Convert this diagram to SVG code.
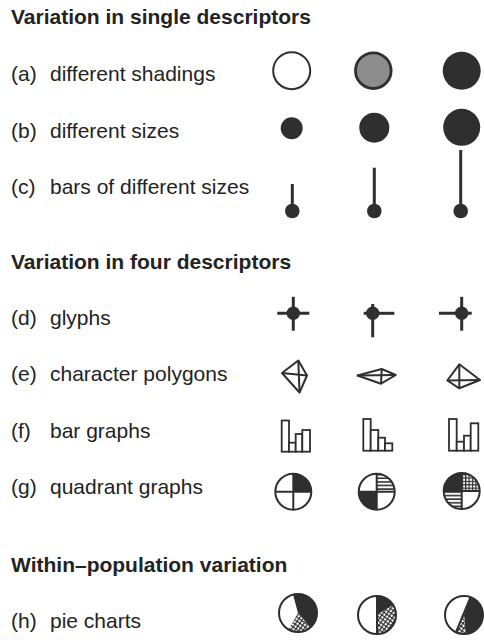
<svg xmlns="http://www.w3.org/2000/svg" width="484" height="640" viewBox="0 0 484 640">
  <defs>
    <style>
      text { font-family: "Liberation Sans", Arial, Helvetica, sans-serif; font-size: 21px; fill: #232323; }
      .head { font-weight: bold; }
      .ink { fill: #2f2f2f; }
      .ring { fill: #fff; stroke: #2f2f2f; stroke-width: 2; }
      .stem { stroke: #2f2f2f; stroke-width: 3; }
      .glyph line { stroke: #2f2f2f; stroke-width: 3; }
      .poly { fill: none; stroke: #2f2f2f; stroke-width: 2; stroke-linejoin: round; }
      .bars rect { fill: #fff; stroke: #2f2f2f; stroke-width: 1.8; }
      .cross { stroke: #2f2f2f; stroke-width: 2; }
    </style>
    <pattern id="hatch" patternUnits="userSpaceOnUse" width="4" height="3.6">
      <rect width="4" height="3.6" fill="#fff"/>
      <line x1="0" y1="1" x2="4" y2="1" stroke="#2f2f2f" stroke-width="1.6"/>
    </pattern>
    <pattern id="grid" patternUnits="userSpaceOnUse" width="3.4" height="3.4">
      <rect width="3.4" height="3.4" fill="#fff"/>
      <line x1="0" y1="0.6" x2="3.4" y2="0.6" stroke="#2f2f2f" stroke-width="1.2"/>
      <line x1="0.6" y1="0" x2="0.6" y2="3.4" stroke="#2f2f2f" stroke-width="1.2"/>
    </pattern>
    <pattern id="diaggrid" patternUnits="userSpaceOnUse" width="3.4" height="3.4" patternTransform="rotate(35)">
      <rect width="3.4" height="3.4" fill="#fff"/>
      <line x1="0" y1="0.6" x2="3.4" y2="0.6" stroke="#2f2f2f" stroke-width="1.2"/>
      <line x1="0.6" y1="0" x2="0.6" y2="3.4" stroke="#2f2f2f" stroke-width="1.2"/>
    </pattern>
  </defs>

  <!-- section headings -->
  <g id="headings">
    <text class="head" x="11" y="24">Variation in single descriptors</text>
    <text class="head" x="11" y="269">Variation in four descriptors</text>
    <text class="head" x="11" y="572">Within–population variation</text>
  </g>

  <!-- row labels -->
  <g id="labels">
    <text x="11" y="81">(a)</text><text x="50" y="81">different shadings</text>
    <text x="11" y="137.5">(b)</text><text x="50" y="137.5">different sizes</text>
    <text x="11" y="194">(c)</text><text x="50" y="194">bars of different sizes</text>
    <text x="11" y="324.5">(d)</text><text x="50" y="324.5">glyphs</text>
    <text x="11" y="381">(e)</text><text x="50" y="381">character polygons</text>
    <text x="11" y="437.5">(f)</text><text x="50" y="437.5">bar graphs</text>
    <text x="11" y="494">(g)</text><text x="50" y="494">quadrant graphs</text>
    <text x="11" y="627.5">(h)</text><text x="50" y="627.5">pie charts</text>
  </g>

  <!-- (a) shadings -->
  <g id="row-a">
    <circle class="ring" cx="291.7" cy="70.7" r="18.5"/>
    <circle cx="373.3" cy="70.7" r="17.8" fill="#8d8d8d" stroke="#2f2f2f" stroke-width="2.8"/>
    <circle class="ink" cx="461.7" cy="70.7" r="19"/>
  </g>

  <!-- (b) sizes -->
  <g id="row-b">
    <circle class="ink" cx="291.7" cy="128.3" r="11"/>
    <circle class="ink" cx="374.3" cy="127.7" r="15"/>
    <circle class="ink" cx="461.7" cy="127.3" r="18.5"/>
  </g>

  <!-- (c) bars -->
  <g id="row-c">
    <line class="stem" x1="292.3" y1="184" x2="292.3" y2="211"/>
    <circle class="ink" cx="292.3" cy="211" r="7.3"/>
    <line class="stem" x1="374.3" y1="167.7" x2="374.3" y2="211"/>
    <circle class="ink" cx="374.3" cy="211" r="7.3"/>
    <line class="stem" x1="460.7" y1="150" x2="460.7" y2="211"/>
    <circle class="ink" cx="460.7" cy="211" r="7.3"/>
  </g>

  <!-- (d) glyphs -->
  <g id="row-d" class="glyph">
    <g transform="translate(293.3,313.3)">
      <line x1="-16" y1="0" x2="16" y2="0"/>
      <line x1="0" y1="-16.5" x2="0" y2="17.4"/>
      <circle class="ink" r="6.7"/>
    </g>
    <g transform="translate(372.7,313.3)">
      <line x1="-9" y1="0" x2="21.6" y2="0"/>
      <line x1="0" y1="-9.3" x2="0" y2="24"/>
      <circle class="ink" r="6.7"/>
    </g>
    <g transform="translate(461.7,313.3)">
      <line x1="-22.7" y1="0" x2="10" y2="0" stroke-width="2.4"/>
      <line x1="0" y1="-16.5" x2="0" y2="17.4"/>
      <circle class="ink" r="6.7"/>
    </g>
  </g>

  <!-- (e) character polygons: outline top-left-bottom-right with cross -->
  <g id="row-e">
    <g class="poly">
      <polygon points="298.3,360.5 282,373 299.5,392.5 307,375.5"/>
      <line x1="298.3" y1="360.5" x2="299.5" y2="392.5"/>
      <line x1="282" y1="373" x2="307" y2="375.5"/>
    </g>
    <g class="poly">
      <polygon points="381.7,369 357.5,375.5 381,383.7 395.8,375"/>
      <line x1="381.7" y1="369" x2="381" y2="383.7"/>
      <line x1="357.5" y1="375.5" x2="395.8" y2="375"/>
    </g>
    <g class="poly">
      <polygon points="459.3,364.3 447.3,380.5 459.3,388.3 480,380"/>
      <line x1="459.3" y1="364.3" x2="459.3" y2="388.3"/>
      <line x1="447.3" y1="380.5" x2="480" y2="380"/>
    </g>
  </g>

  <!-- (f) bar graphs -->
  <g id="row-f" class="bars">
    <rect x="281.7" y="420.5" width="7.3" height="31.2"/>
    <rect x="289" y="442.7" width="6.7" height="9"/>
    <rect x="295.7" y="434" width="6.6" height="17.7"/>
    <rect x="302.3" y="430" width="7.7" height="21.7"/>

    <rect x="363.3" y="419" width="7.4" height="31.7"/>
    <rect x="370.7" y="430" width="7.6" height="20.7"/>
    <rect x="378.3" y="437.7" width="6.7" height="13"/>
    <rect x="385" y="443.3" width="7.3" height="7.4"/>

    <rect x="449" y="419" width="7.7" height="31.7"/>
    <rect x="456.7" y="441.7" width="7.3" height="9"/>
    <rect x="464" y="435.7" width="6.7" height="15"/>
    <rect x="470.7" y="423.3" width="7.6" height="27.4"/>
  </g>

  <!-- (g) quadrant graphs -->
  <g id="row-g">
    <g transform="translate(293.3,491.7)">
      <circle r="18" fill="#fff"/>
      <path class="ink" d="M0,0 L0,-18 A18,18 0 0 1 18,0 Z"/>
      <line class="cross" x1="-18" y1="0" x2="18" y2="0"/>
      <line class="cross" x1="0" y1="-18" x2="0" y2="18"/>
      <circle r="18" fill="none" stroke="#2f2f2f" stroke-width="2"/>
    </g>
    <g transform="translate(376.7,491.7)">
      <circle r="18" fill="#fff"/>
      <path d="M0,0 L0,-18 A18,18 0 0 1 18,0 Z" fill="url(#hatch)"/>
      <path class="ink" d="M0,0 L0,18 A18,18 0 0 1 -18,0 Z"/>
      <line class="cross" x1="-18" y1="0" x2="18" y2="0"/>
      <line class="cross" x1="0" y1="-18" x2="0" y2="18"/>
      <circle r="18" fill="none" stroke="#2f2f2f" stroke-width="2"/>
    </g>
    <g transform="translate(461.7,491)">
      <circle r="18" fill="#fff"/>
      <path class="ink" d="M0,0 L-18,0 A18,18 0 0 1 0,-18 Z"/>
      <path d="M0,0 L0,-18 A18,18 0 0 1 18,0 Z" fill="url(#grid)"/>
      <path d="M0,0 L0,18 A18,18 0 0 1 -18,0 Z" fill="url(#hatch)"/>
      <line class="cross" x1="-18" y1="0" x2="18" y2="0"/>
      <line class="cross" x1="0" y1="-18" x2="0" y2="18"/>
      <circle r="18" fill="none" stroke="#2f2f2f" stroke-width="2"/>
    </g>
  </g>

  <!-- (h) pie charts -->
  <g id="row-h">
    <g transform="translate(298,613)">
      <circle r="19" fill="#fff"/>
      <path class="ink" d="M0,0 L-4.92,-18.35 A19,19 0 0 1 12.21,14.55 Z"/>
      <path d="M0,0 L12.21,14.55 A19,19 0 0 1 -9.5,16.45 Z" fill="url(#diaggrid)"/>
      <circle r="19" fill="none" stroke="#2f2f2f" stroke-width="2"/>
    </g>
    <g transform="translate(377,615)">
      <circle r="19" fill="#fff"/>
      <path class="ink" d="M0,0 L0,-19 A19,19 0 0 1 16.1,-10.1 Z"/>
      <path d="M0,0 L16.1,-10.1 A19,19 0 0 1 0,19 Z" fill="url(#diaggrid)"/>
      <line class="cross" x1="0" y1="-19" x2="0" y2="19"/>
      <circle r="19" fill="none" stroke="#2f2f2f" stroke-width="2"/>
    </g>
    <g transform="translate(464,615)">
      <circle r="19" fill="#fff"/>
      <path class="ink" d="M0,0 L6.5,-17.9 A19,19 0 0 1 1.66,18.93 Z"/>
      <path d="M0,0 L1.66,18.93 A19,19 0 0 1 -8.03,17.22 Z" fill="url(#diaggrid)"/>
      <line class="cross" x1="6.5" y1="-17.9" x2="-8.03" y2="17.22"/>
      <circle r="19" fill="none" stroke="#2f2f2f" stroke-width="2"/>
    </g>
  </g>
</svg>
